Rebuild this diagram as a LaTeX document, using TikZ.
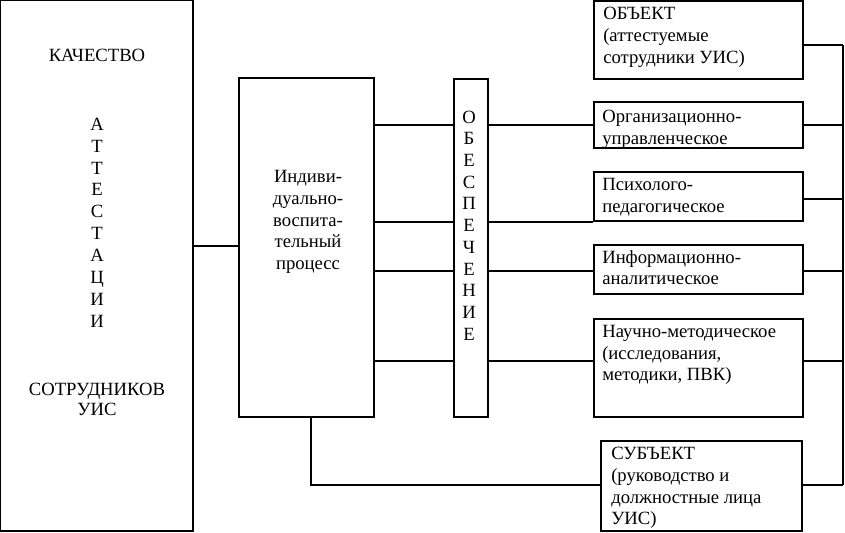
\documentclass[tikz,border=0pt]{standalone}
\usepackage{fontspec}
\setmainfont{Liberation Serif}
\usetikzlibrary{fit}

\begin{document}
\begin{tikzpicture}[x=0.75pt,y=0.75pt,yscale=-1,xscale=1,
  box/.style={draw, line width=1.2pt, inner sep=0pt},
  link/.style={line width=1.5pt},
  txt/.style={inner sep=0pt, font=\fontsize{14}{16.3}\selectfont}]
\useasboundingbox (0,0) rectangle (845,532);

%Shape: Rectangle (left)
\node [box, line width=0.8pt, fit={(0.5,0.5) (193,531)}] (kach) {};
%Shape: Rectangle (process)
\node [box, fit={(239,78) (374,417)}] (proc) {};
%Shape: Rectangle (vertical word)
\node [box, fit={(454,79) (488,417)}] (obes) {};
%Shape: Rectangle (right column)
\node [box, fit={(594,1) (803,79)}] (obj) {};
\node [box, fit={(594,102) (803,148)}] (org) {};
\node [box, fit={(594,172) (803,221)}] (psy) {};
\node [box, fit={(594,245) (803,294)}] (inf) {};
\node [box, fit={(594,319) (803,417)}] (nauch) {};
\node [box, fit={(601,441) (802,531)}] (subj) {};

\coordinate (bus) at (843,0);
\coordinate (turn) at (311,485);

%Straight Lines
\draw [link] (kach.east |- 0,246) -- (proc.west |- 0,246);
\foreach \b/\y in {org/125, psy/222, inf/271, nauch/361} {
  \draw [link] (proc.east |- 0,\y) -- (obes.west |- 0,\y);
  \draw [link] (obes.east |- 0,\y) -- (\b.west |- 0,\y);
}
\foreach \b/\y in {obj/45, org/125, psy/199, inf/271, nauch/361, subj/485}
  \draw [link] (\b.east |- 0,\y) -- (bus |- 0,\y);
\draw [link] (bus |- 0,45) -- (bus |- 0,485);
\draw [link] (proc.south -| turn) -- (turn) -- (subj.west |- turn);

% Text Node
\node [txt] (kachT) at (97,55) {КАЧЕСТВО};
% Text Node
\node [txt, align=center, font=\fontsize{14}{16.4}\selectfont] (attT) at (97,222.5) {А\\Т\\Т\\Е\\С\\Т\\А\\Ц\\И\\И};
% Text Node
\node [txt, align=center, font=\fontsize{14}{15}\selectfont] (sotrT) at (97,399) {СОТРУДНИКОВ\\УИС};
% Text Node
\node [txt, align=center] (procT) at (308,222) {Индиви-\\дуально-\\воспита-\\тельный\\процесс};
% Text Node
\node [txt, align=center] (obesT) at (469,225.5) {О\\Б\\Е\\С\\П\\Е\\Ч\\Е\\Н\\И\\Е};
% Text Node
\node [txt, anchor=north west, align=left] (objT) at (603,7) {ОБЪЕКТ\\(аттестуемые\\сотрудники УИС)};
% Text Node
\node [txt, anchor=north west, align=left] (orgT) at (602,110) {Организационно-\\управленческое};
% Text Node
\node [txt, anchor=north west, align=left] (psyT) at (602,178) {Психолого-\\педагогическое};
% Text Node
\node [txt, anchor=north west, align=left] (infT) at (602,250) {Информационно-\\аналитическое};
% Text Node
\node [txt, anchor=north west, align=left] (nauchT) at (602,325) {Научно-методическое\\(исследования,\\методики, ПВК)};
% Text Node
\node [txt, anchor=north west, align=left] (subjT) at (611,447) {СУБЪЕКТ\\(руководство и\\должностные лица\\УИС)};
\end{tikzpicture}
\end{document}
